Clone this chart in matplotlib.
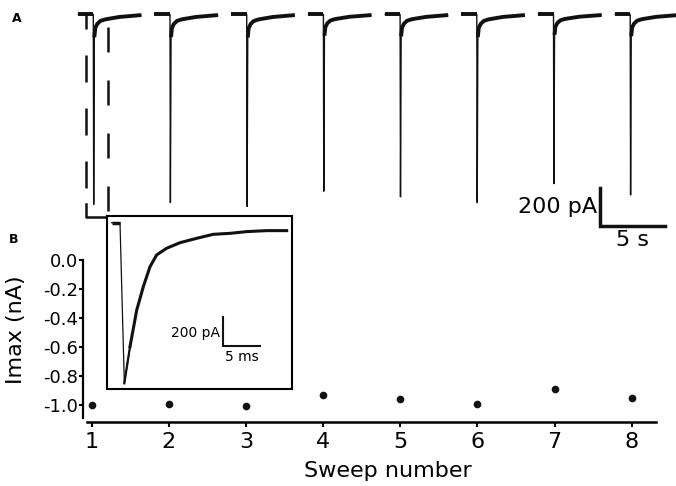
import numpy as np
import matplotlib
matplotlib.use('Agg')
import matplotlib.pyplot as plt
from matplotlib.ticker import FormatStrFormatter

plt.rcParams['font.family'] = ['DejaVu Sans']
plt.rcParams['axes.unicode_minus'] = False

# ---------------- data ----------------
sweeps = [1, 2, 3, 4, 5, 6, 7, 8]
imax_nA = [-1.00, -0.99, -1.01, -0.93, -0.96, -0.99, -0.89, -0.95]
yticks_B = [0.0, -0.2, -0.4, -0.6, -0.8, -1.0]
sweep_period_s = 5.9

# normalised waveform of one sweep (time from stimulus in s, fraction of peak)
shape_t = [-1.2, 0.0, 0.03, 0.08, 0.15, 0.30, 0.54, 0.90, 1.31, 2.00, 2.85, 3.70]
shape_f = [0.0, 0.0, 1.0, 0.12, 0.071, 0.050, 0.034, 0.026, 0.021, 0.013, 0.008, 0.003]

# inset: first response on a fast time base (ms, nA)
inset_t = [0.0, 1.11, 1.69, 2.45, 3.35, 4.23, 5.13, 6.02, 7.36, 9.14, 11.38,
           13.60, 15.84, 18.07, 20.75, 23.43]
inset_i = [0.0, 0.0, -1.131, -0.873, -0.615, -0.451, -0.310, -0.227, -0.180,
           -0.141, -0.110, -0.082, -0.075, -0.063, -0.056, -0.056]

W, H = 676, 486
fig = plt.figure(figsize=(W / 100, H / 100), dpi=100)
col = '#111111'

# ---------------- panel A ----------------
axA = fig.add_axes([0, 1 - 240 / H, 1, 240 / H])
axA.set_axis_off()
axA.set_xlim(-93.3 / 13, (W - 93.3) / 13)
axA.set_ylim(-(240 - 14.5) / 190, 14.5 / 190)

st = np.array(shape_t)
sf = np.array(shape_f)
for k, amp in enumerate(imax_nA):
    t = st + k * sweep_period_s
    i = sf * amp
    axA.plot(t, i, color=col, lw=1.0, solid_capstyle='butt')
    axA.plot(t[:2], i[:2], color=col, lw=2.8, solid_capstyle='butt')
    axA.plot(t[3:], i[3:], color=col, lw=2.8, solid_capstyle='butt')

# dashed zoom markers and bracket to inset
axA.plot([-0.54, -0.54], [0.008, -1.0], color=col, lw=1.8,
         linestyle=(4.4, (10.8, 10.4)), clip_on=False)
axA.plot([-0.54, -0.54, 1.08], [-0.995, -1.066, -1.066], color=col, lw=1.8,
         clip_on=False)
axA.plot([1.15, 1.15], [-0.066, -1.066], color=col, lw=1.8,
         linestyle=(0, (10.0, 11.2)), clip_on=False)

# scale bar A
sx, sy = 38.98, -1.113
axA.plot([sx, sx, sx + 5], [sy + 0.2, sy, sy], color=col, lw=2.5,
         solid_joinstyle='miter', clip_on=False)
axA.text(sx - 0.25, sy + 0.1, '200 pA', ha='right', va='center', fontsize=16)
axA.text(sx + 2.5, -1.187, '5 s', ha='center', va='center', fontsize=16)

fig.text(17 / W, 1 - 18 / H, 'A', ha='center', va='center', fontsize=9,
         fontweight='bold')
fig.text(14 / W, 1 - 239 / H, 'B', ha='center', va='center', fontsize=9,
         fontweight='bold')

# ---------------- panel B ----------------
axB = fig.add_axes([87.3 / W, 1 - 421.7 / H, (656 - 87.3) / W, (421.7 - 260) / H])
axB.patch.set_alpha(0)
axB.plot(sweeps, imax_nA, 'o', color=col, ms=4.5, clip_on=False)
axB.set_xlim(0.943, 8.315)
axB.set_ylim(-1.115, 0.0)
for s in ('top', 'right'):
    axB.spines[s].set_visible(False)
axB.spines['left'].set_position(('outward', 3.3))
axB.spines['left'].set_bounds(-1.09, 0.0)
axB.spines['left'].set_linewidth(1.6)
axB.spines['bottom'].set_linewidth(1.8)
axB.set_yticks(yticks_B)
axB.yaxis.set_major_formatter(FormatStrFormatter('%.1f'))
axB.set_xticks(sweeps)
axB.tick_params(axis='y', direction='out', length=2.6, width=1.5, labelsize=13, pad=1)
axB.tick_params(axis='x', direction='out', length=3.6, width=1.5, labelsize=16, pad=4)
axB.set_ylabel('Imax (nA)', fontsize=16, va='center', ha='center')
axB.yaxis.set_label_coords((16 - 87.3) / (656 - 87.3), (421.7 - 330) / 161.7)
axB.set_xlabel('Sweep number', fontsize=16, va='center', ha='center')
axB.xaxis.set_label_coords((388 - 87.3) / (656 - 87.3), (421.7 - 471) / 161.7)

# ---------------- inset ----------------
axI = fig.add_axes([106.7 / W, 1 - 388.7 / H, (292 - 106.7) / W, (388.7 - 216) / H])
axI.set_zorder(5)
axI.set_xlim(-0.67, 24.14)
axI.set_ylim(-1.169, 0.047)
axI.set_xticks([])
axI.set_yticks([])
for s in axI.spines.values():
    s.set_linewidth(1.5)
axI.plot(inset_t, inset_i, color=col, lw=0.9)
axI.plot(inset_t[:2], inset_i[:2], color=col, lw=2.5, solid_capstyle='butt')
axI.plot(inset_t[3:], inset_i[3:], color=col, lw=2.2)
axI.plot(inset_t[2:4], inset_i[2:4], color=col, lw=1.6)

bx, by = 14.86, -0.866
axI.plot([bx, bx, bx + 5], [by + 0.2, by, by], color=col, lw=1.5,
         solid_joinstyle='miter')
axI.text(bx - 0.3, -0.777, '200 pA', ha='right', va='center', fontsize=10)
axI.text(17.44, -0.944, '5 ms', ha='center', va='center', fontsize=10)

fig.savefig('out.png', dpi=100)
